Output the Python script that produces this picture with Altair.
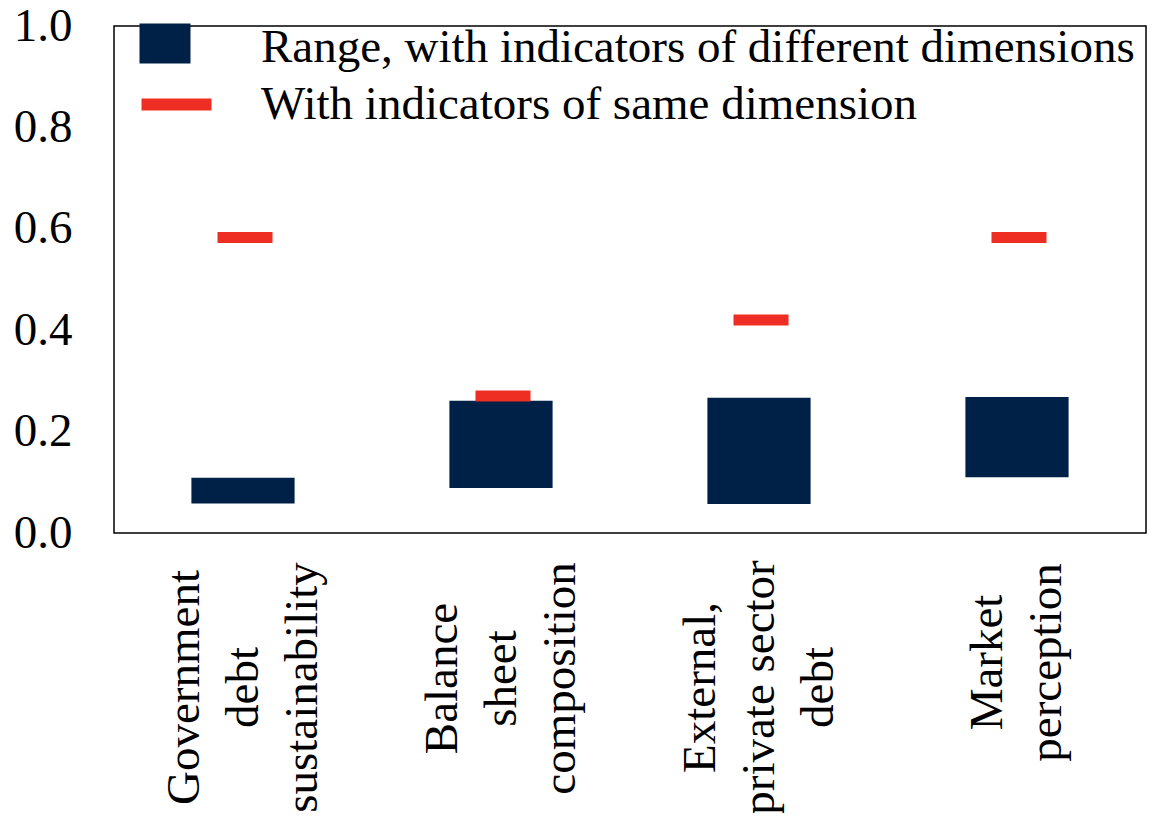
import altair as alt
import pandas as pd

categories = [
    "Government|debt|sustainability",
    "Balance|sheet|composition",
    "External,|private sector|debt",
    "Market|perception",
]
range_low = [0.058, 0.089, 0.057, 0.110]
range_high = [0.109, 0.261, 0.267, 0.268]
same_dim = [0.583, 0.270, 0.420, 0.583]
series = [
    "Range, with indicators of different dimensions",
    "With indicators of same dimension",
]
y_ticks = [0.0, 0.2, 0.4, 0.6, 0.8, 1.0]

NAVY = "#002147"
RED = "#EE2E22"
FONT = "Liberation Serif"

df_range = pd.DataFrame({"category": categories, "low": range_low,
                         "high": range_high, "series": series[0]})
df_same = pd.DataFrame({"category": categories, "value": same_dim,
                        "series": series[1]})

x_enc = alt.X(
    "category:N", sort=categories,
    scale=alt.Scale(paddingInner=0.6, paddingOuter=0.3),
    axis=alt.Axis(
        title=None, labelAngle=270, labelAlign="center", labelBaseline="middle",
        labelExpr="split(datum.label, '|')", labelFont=FONT, labelFontSize=47,
        labelLineHeight=59, labelColor="black", labelOverlap=False, labelLimit=0,
        labelPadding={"condition": [
            {"test": "indexof(datum.value, 'Market') == 0", "value": 129},
            {"test": "indexof(datum.value, 'Balance') == 0", "value": 145},
        ], "value": 154},
        labelOffset={"condition": {"test": "indexof(datum.value, 'Market') == 0",
                                   "value": -29}, "value": -58},
        ticks=False, tickSize=0, domain=False, grid=False,
    ),
)


def make_legend(shape, ly):
    return alt.Legend(
        title=None, orient="none", legendX=39, legendY=ly,
        symbolType=shape, symbolSize=1600, symbolStrokeWidth=0, symbolOpacity=1,
        labelFont=FONT, labelFontSize=47, labelColor="black", labelLimit=0,
        labelOffset=61, padding=0,
    )


y_scale = alt.Scale(domain=[0, 1], nice=False, zero=True)
y_axis = alt.Axis(
    title=None, values=y_ticks, format=".1f", labelFont=FONT, labelFontSize=47,
    labelColor="black", labelPadding=42, labelFlush=False, ticks=False,
    tickSize=0, domain=False, grid=False,
)

bars = alt.Chart(df_range).mark_bar(opacity=1).encode(
    x=x_enc,
    y=alt.Y("low:Q", scale=y_scale, axis=y_axis),
    y2="high:Q",
    color=alt.Color("series:N", scale=alt.Scale(domain=[series[0]], range=[NAVY]),
                    legend=make_legend("M-1.85,-1.2H0.7V0.8H-1.85Z", -2)),
)

ticks = alt.Chart(df_same).mark_tick(thickness=11, size=55, opacity=1, xOffset=2).encode(
    x=x_enc,
    y=alt.Y("value:Q", scale=y_scale, axis=y_axis),
    color=alt.Color("series:N", scale=alt.Scale(domain=[series[1]], range=[RED]),
                    legend=make_legend("M-1.75,-0.3H1.75V0.3H-1.75Z", 55)),
)

chart = alt.layer(bars, ticks).resolve_scale(color="independent").properties(
    width=1032, height=507,
    autosize="none",
    padding={"left": 106, "top": 18, "right": 1, "bottom": 280},
).configure(
    font=FONT, background="white",
    view=alt.ViewConfig(stroke="black", strokeWidth=1.5),
)

chart.save("out.html", embed_options={"renderer": "svg", "actions": False})
